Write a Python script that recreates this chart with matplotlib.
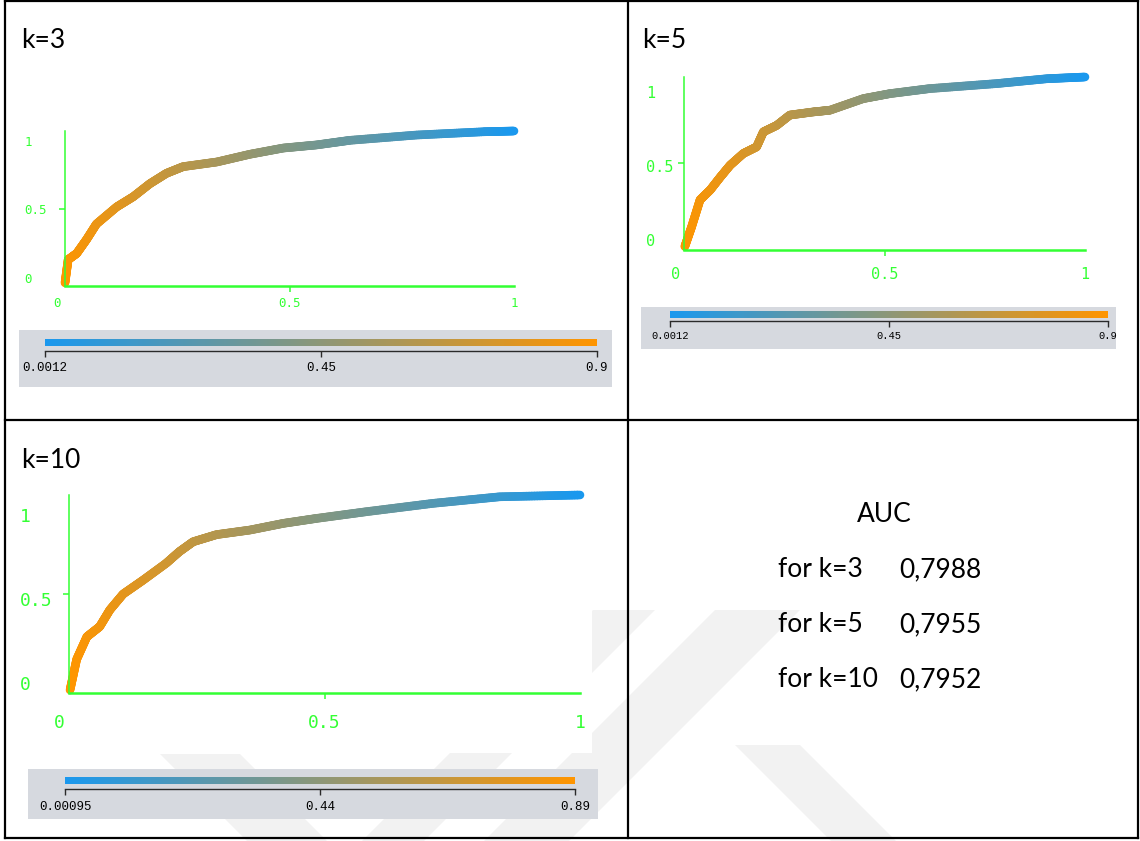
import numpy as np
import matplotlib
matplotlib.use("Agg")
import matplotlib.pyplot as plt
from matplotlib.collections import LineCollection
from matplotlib.colors import LinearSegmentedColormap, Normalize
from matplotlib.colorbar import ColorbarBase
from matplotlib.patches import Rectangle

W, H = 1140, 841

# ROC points (FPR, TPR) with the score threshold at each point
k3_fpr = [0.0, 0.007, 0.026, 0.048, 0.07, 0.115, 0.152, 0.189, 0.226, 0.263,
          0.338, 0.412, 0.486, 0.56, 0.635, 0.783, 0.932, 1.0]
k3_tpr = [0.02, 0.17, 0.21, 0.30, 0.40, 0.51, 0.576, 0.66, 0.727, 0.77,
          0.80, 0.85, 0.89, 0.91, 0.94, 0.974, 0.995, 1.0]
k3_thr = [0.90, 0.89, 0.87, 0.85, 0.83, 0.79, 0.75, 0.71, 0.67, 0.63,
          0.56, 0.49, 0.42, 0.36, 0.30, 0.18, 0.06, 0.0012]

k5_fpr = [0.002, 0.019, 0.04, 0.065, 0.09, 0.115, 0.148, 0.181, 0.198, 0.231,
          0.264, 0.322, 0.364, 0.447, 0.514, 0.613, 0.78, 0.905, 1.0]
k5_tpr = [0.02, 0.134, 0.29, 0.346, 0.42, 0.49, 0.558, 0.596, 0.683, 0.72,
          0.78, 0.798, 0.808, 0.875, 0.904, 0.933, 0.962, 0.99, 1.0]
k5_thr = [0.90, 0.88, 0.86, 0.84, 0.82, 0.80, 0.76, 0.72, 0.70, 0.67,
          0.63, 0.58, 0.54, 0.47, 0.41, 0.33, 0.19, 0.08, 0.0012]

k10_fpr = [0.002, 0.015, 0.035, 0.06, 0.08, 0.106, 0.145, 0.19, 0.216, 0.243,
           0.289, 0.354, 0.42, 0.485, 0.583, 0.713, 0.843, 1.0]
k10_tpr = [0.015, 0.17, 0.284, 0.335, 0.42, 0.50, 0.57, 0.655, 0.714, 0.764,
           0.80, 0.823, 0.857, 0.882, 0.916, 0.958, 0.991, 1.0]
k10_thr = [0.89, 0.88, 0.86, 0.84, 0.82, 0.79, 0.75, 0.71, 0.68, 0.65,
           0.60, 0.54, 0.48, 0.42, 0.34, 0.23, 0.12, 0.00095]

cbar_k3 = [0.0012, 0.45, 0.9]
cbar_k5 = [0.0012, 0.45, 0.9]
cbar_k10 = [0.00095, 0.44, 0.89]

titles = ["k=3", "k=5", "k=10"]
auc_labels = ["for k=3", "for k=5", "for k=10"]
auc_values = ["0,7988", "0,7955", "0,7952"]

GREEN = "#33ff33"
cmap = LinearSegmentedColormap.from_list("thr", ["#1a98ee", "#ff9500"])

fig = plt.figure(figsize=(W / 100, H / 100), dpi=100)
bg = fig.add_axes([0, 0, 1, 1])
bg.set_xlim(0, W)
bg.set_ylim(H, 0)
bg.axis("off")


def px_rect(x0, y0, x1, y1):
    return [x0 / W, 1 - y1 / H, (x1 - x0) / W, (y1 - y0) / H]


# faint background logo in the lower half
wm = "#f2f2f2"
bands = [
    [(593, 610), (655, 610), (424, 841), (362, 841)],
    [(715, 610), (800, 610), (569, 841), (484, 841)],
    [(735, 745), (800, 745), (896, 841), (831, 841)],
    [(160, 754), (240, 754), (327, 841), (247, 841)],
]
for b in bands:
    xs, ys = zip(*b)
    bg.fill(xs, ys, color=wm, zorder=0, lw=0)
# plot image of the k=10 panel has an opaque white background
bg.add_patch(Rectangle((7, 440), 585, 313, color="white", zorder=1, lw=0))

# table grid
lw = 1.6
for xs, ys in [([5, 1138], [1, 1]), ([5, 1138], [838, 838]), ([5, 5], [1, 838]),
               ([1138, 1138], [1, 838]), ([628, 628], [1, 838]), ([5, 1138], [420, 420])]:
    bg.plot(xs, ys, color="black", lw=lw, zorder=5, solid_capstyle="projecting")


def draw_roc(box, fpr, tpr, thr, vmin, vmax, fs, xlab_y, ylab_x, ylab_pos, xlab0):
    ax = fig.add_axes(px_rect(*box))
    ax.set_xlim(0, 1)
    ax.set_ylim(0, 1)
    ax.patch.set_visible(False)
    for s in ["top", "right"]:
        ax.spines[s].set_visible(False)
    ax.spines["left"].set_color(GREEN)
    ax.spines["left"].set_linewidth(1.1)
    ax.spines["bottom"].set_color(GREEN)
    ax.spines["bottom"].set_linewidth(1.8)
    ax.set_xticks([0.5])
    ax.set_yticks([0.5])
    ax.set_xticklabels([])
    ax.set_yticklabels([])
    ax.tick_params(color=GREEN, length=4.5, width=1.1)

    # colour the curve by threshold; split segments so the ramp is smooth
    fpr, tpr, thr = map(np.asarray, (fpr, tpr, thr))
    idx = np.arange(len(fpr))
    t = np.linspace(0, len(fpr) - 1, 30 * (len(fpr) - 1) + 1)
    xs = np.interp(t, idx, fpr)
    ys = np.interp(t, idx, tpr)
    cs = np.interp(t, idx, thr)
    pts = np.column_stack([xs, ys]).reshape(-1, 1, 2)
    segs = np.concatenate([pts[:-1], pts[1:]], axis=1)
    lc = LineCollection(segs, cmap=cmap, norm=Normalize(vmin, vmax),
                        linewidths=6.2, capstyle="round", clip_on=False)
    lc.set_array((cs[:-1] + cs[1:]) / 2)
    ax.add_collection(lc)

    tf = dict(color=GREEN, fontsize=fs, family="DejaVu Sans Mono", va="center")
    xt = ax.get_xaxis_transform()
    for v, s in zip([xlab0, 0.5, 1.0], ["0", "0.5", "1"]):
        ax.text(v, xlab_y, s, transform=xt, ha="center", **tf)
    yt = ax.get_yaxis_transform()
    for v, s in zip(ylab_pos, ["0", "0.5", "1"]):
        ax.text(ylab_x, v, s, transform=yt, ha="left", **tf)
    return ax


def draw_colorbar(box, bar, line_y, labels, fs, pad):
    bx0, by0, bx1, by1 = box
    bg.add_patch(Rectangle((bx0, by0), bx1 - bx0, by1 - by0, color="#d6d9df", zorder=2, lw=0))
    x0, y0, x1, y1 = bar
    vmin, vmax = labels[0], labels[-1]
    cax = fig.add_axes(px_rect(x0, y0, x1, y1))
    cb = ColorbarBase(cax, cmap=cmap, norm=Normalize(vmin, vmax), orientation="horizontal")
    cb.outline.set_visible(False)
    cax.set_xticks([])
    tax = fig.add_axes(px_rect(x0, line_y - 2, x1, line_y))
    tax.set_xlim(vmin, vmax)
    tax.patch.set_visible(False)
    for s in ["top", "left", "right"]:
        tax.spines[s].set_visible(False)
    tax.spines["bottom"].set_color("#2a2a2a")
    tax.spines["bottom"].set_linewidth(1.0)
    tax.set_yticks([])
    tax.set_xticks([vmin, (vmin + vmax) / 2, vmax])
    tax.set_xticklabels([str(v) for v in labels], family="Liberation Mono", fontsize=fs)
    tax.tick_params(axis="x", direction="out", length=4, width=1, color="#2a2a2a", pad=pad)


draw_roc((65, 131, 514, 286), k3_fpr, k3_tpr, k3_thr, cbar_k3[0], cbar_k3[-1],
         9, -0.11, -0.091, [0.039, 0.49, 0.929], -0.018)
draw_colorbar((19, 330, 612, 387), (45, 339, 597, 346), 351, cbar_k3, 9, 4.2)

draw_roc((684, 77, 1085, 250), k5_fpr, k5_tpr, k5_thr, cbar_k5[0], cbar_k5[-1],
         11, -0.144, -0.095, [0.048, 0.477, 0.904], -0.02)
draw_colorbar((641, 307, 1116, 349), (670, 311, 1108, 318), 321, cbar_k5, 7.5, 3.4)

draw_roc((69, 495, 580, 693), k10_fpr, k10_tpr, k10_thr, cbar_k10[0], cbar_k10[-1],
         13, -0.152, -0.096, [0.04, 0.466, 0.89], -0.018)
draw_colorbar((28, 769, 598, 819), (65, 777, 575, 784), 789, cbar_k10, 9, 4.5)

# panel titles
title_font = dict(family="Lato", fontsize=19, color="black", va="baseline", zorder=6)
for (x, y), s in zip([(21, 48), (642, 48), (21, 468)], titles):
    bg.text(x, y, s, **title_font)

# AUC summary cell
bg.text(884, 522, "AUC", ha="center", **title_font)
for i, (lab, val) in enumerate(zip(auc_labels, auc_values)):
    y = 577 + 55 * i
    bg.text(778, y, lab, ha="left", **title_font)
    bg.text(899, y, val, ha="left", **title_font)

fig.savefig("out.png", dpi=100, facecolor="white")
